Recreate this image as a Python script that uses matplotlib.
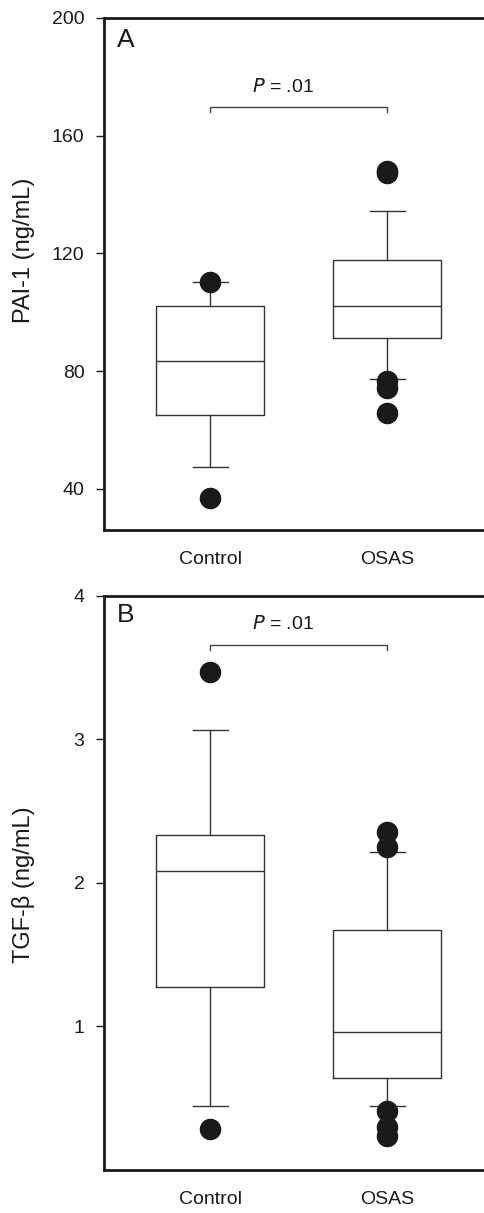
import matplotlib
matplotlib.use("Agg")
import matplotlib.pyplot as plt

plt.rcParams['font.family'] = ['Liberation Sans', 'DejaVu Sans']

groups = ["Control", "OSAS"]

# Panel A: PAI-1 (ng/mL)
pai_whislo = [47.4, 77.3]
pai_q1 = [65.0, 91.3]
pai_med = [83.5, 102.0]
pai_q3 = [102.0, 117.7]
pai_whishi = [110.2, 134.4]
pai_fliers = [[110.2, 36.8], [148.0, 147.2, 76.7, 74.4, 65.6]]
pai_ticks = [40, 80, 120, 160, 200]

# Panel B: TGF-beta (ng/mL)
tgf_whislo = [0.447, 0.444]
tgf_q1 = [1.276, 0.644]
tgf_med = [2.085, 0.96]
tgf_q3 = [2.333, 1.669]
tgf_whishi = [3.065, 2.217]
tgf_fliers = [[3.47, 0.285], [2.357, 2.248, 0.412, 0.297, 0.234]]
tgf_ticks = [1, 2, 3, 4]

p_text = "= .01"

W, H = 484, 1213
fig = plt.figure(figsize=(W / 100, H / 100), dpi=100)

def make_axes(top_px, bottom_px):
    left_px = 104
    width_px = 2.2 * 177
    return fig.add_axes([left_px / W, 1 - bottom_px / H, width_px / W, (bottom_px - top_px) / H])

def draw(ax, lo, q1, med, q3, hi, fl, ylim, ticks, ylabel, letter, bracket_y, tick_drop, text_y, label_y, letter_y):
    stats = []
    for i, g in enumerate(groups):
        stats.append(dict(label=g, whislo=lo[i], q1=q1[i], med=med[i], q3=q3[i], whishi=hi[i], fliers=fl[i]))
    ec = '#333333'
    ax.bxp(stats, positions=[1, 2], widths=0.61, capwidths=0.2, showfliers=True,
           boxprops=dict(color=ec, linewidth=1.0),
           whiskerprops=dict(color=ec, linewidth=1.0),
           capprops=dict(color=ec, linewidth=1.0),
           medianprops=dict(color=ec, linewidth=1.0),
           flierprops=dict(marker='o', markerfacecolor='#1a1a1a', markeredgecolor='#1a1a1a', markersize=14.5))
    ax.set_xlim(0.4, 2.6)
    ax.set_ylim(*ylim)
    ax.set_yticks(ticks)
    ax.tick_params(axis='y', direction='out', length=6, width=1.0, pad=8, labelsize=14, colors='#1a1a1a')
    ax.tick_params(axis='x', length=0, pad=15, labelsize=14, colors='#1a1a1a')
    for s in ['left', 'bottom', 'top', 'right']:
        ax.spines[s].set_linewidth(2.0)
        ax.spines[s].set_color('#1a1a1a')
    ax.set_ylabel(ylabel, fontsize=17, color='#1a1a1a')
    ax.yaxis.set_label_coords(-0.177, label_y)
    ax.text(0.055, letter_y, letter, transform=ax.transAxes, fontsize=19, ha='center', va='center', color='#1a1a1a')
    ax.plot([1, 1, 2, 2], [bracket_y - tick_drop, bracket_y, bracket_y, bracket_y - tick_drop],
            color='#444444', linewidth=1.0, clip_on=False)
    ax.text(1.41, text_y, r"$\mathit{P}$ " + p_text, fontsize=14, ha='center', va='center', color='#1a1a1a')

axA = make_axes(18, 530)
draw(axA, pai_whislo, pai_q1, pai_med, pai_q3, pai_whishi, pai_fliers, (26, 200), pai_ticks,
     "PAI-1 (ng/mL)", "A", 169.6, 1.7, 176.4, 0.547, 0.957)

axB = make_axes(595.7, 1170)
draw(axB, tgf_whislo, tgf_q1, tgf_med, tgf_q3, tgf_whishi, tgf_fliers, (0.0, 4.0), tgf_ticks,
     "TGF-\u03b2 (ng/mL)", "B", 3.66, 0.035, 3.8, 0.496, 0.966)

fig.savefig("out.png", dpi=100)
